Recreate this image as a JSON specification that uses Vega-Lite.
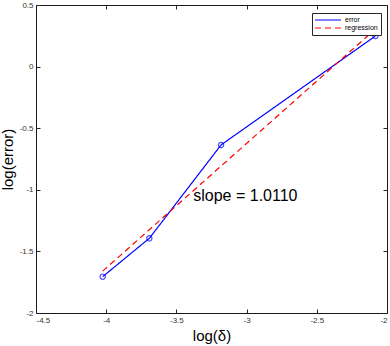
{
  "$schema": "https://vega.github.io/schema/vega-lite/v6.json",
  "width": 351,
  "height": 308,
  "autosize": {"type": "none"},
  "padding": {"left": 36, "top": 5, "right": 3, "bottom": 33},
  "background": "white",
  "config": {
    "view": {"stroke": null},
    "font": "Liberation Sans",
    "axis": {
      "labelFont": "Liberation Sans",
      "labelFontSize": 8,
      "labelColor": "#333333",
      "titleFont": "Liberation Sans",
      "titleFontSize": 15,
      "titleFontWeight": "normal",
      "titleColor": "#000000",
      "domainColor": "#1a1a1a",
      "tickColor": "#262626",
      "tickSize": -4,
      "grid": false
    }
  },
  "datasets": {
    "lines": [
      {"series": "error", "logdelta": -4.025, "logerror": -1.705},
      {"series": "error", "logdelta": -3.693, "logerror": -1.394},
      {"series": "error", "logdelta": -3.182, "logerror": -0.636},
      {"series": "error", "logdelta": -2.083, "logerror": 0.248},
      {"series": "regression", "logdelta": -4.025, "logerror": -1.66},
      {"series": "regression", "logdelta": -2.083, "logerror": 0.304}
    ],
    "label": [
      {"logdelta": -3.38, "logerror": -1.092, "text": "slope = 1.0110"}
    ]
  },
  "layer": [
    {
      "data": {"name": "lines"},
      "mark": {"type": "line", "strokeWidth": 1.2},
      "encoding": {
        "x": {
          "field": "logdelta", "type": "quantitative",
          "scale": {"domain": [-4.5, -2], "nice": false, "zero": false},
          "axis": {"orient": "bottom", "values": [-4.5, -4, -3.5, -3, -2.5, -2], "labelExpr": "'' + datum.value", "title": "log(δ)", "labelPadding": 7, "titlePadding": 4}
        },
        "y": {
          "field": "logerror", "type": "quantitative",
          "scale": {"domain": [-2, 0.5], "nice": false, "zero": false},
          "axis": {"orient": "left", "values": [-2, -1.5, -1, -0.5, 0, 0.5], "labelExpr": "'' + datum.value", "title": "log(error)", "labelPadding": 7, "titlePadding": 4}
        },
        "color": {
          "field": "series", "type": "nominal",
          "scale": {"domain": ["error", "regression"], "range": ["#0000ff", "#ff0000"]},
          "legend": {
            "title": null, "orient": "none", "legendX": 276, "legendY": 8,
            "fillColor": "white", "strokeColor": "#262626", "padding": 3,
            "symbolType": "stroke", "symbolSize": 676, "symbolStrokeWidth": 1.2,
            "labelFontSize": 7, "labelFont": "Liberation Sans", "labelColor": "#000000",
            "rowPadding": 0, "clipHeight": 8, "labelOffset": 3, "symbolOffset": -1
          }
        },
        "strokeDash": {
          "field": "series", "type": "nominal",
          "scale": {"domain": ["error", "regression"], "range": [[1, 0], [6, 4]]},
          "legend": null
        }
      }
    },
    {
      "data": {"name": "lines"},
      "transform": [{"filter": "datum.series === 'error'"}],
      "mark": {"type": "point", "shape": "circle", "filled": false, "color": "#0000ff", "size": 28, "strokeWidth": 1.2},
      "encoding": {
        "x": {"field": "logdelta", "type": "quantitative", "axis": null},
        "y": {"field": "logerror", "type": "quantitative", "axis": null}
      }
    },
    {
      "data": {"name": "label"},
      "mark": {"type": "text", "align": "left", "baseline": "alphabetic", "fontSize": 16, "font": "Liberation Sans", "color": "#000000"},
      "encoding": {
        "x": {"field": "logdelta", "type": "quantitative", "axis": null},
        "y": {"field": "logerror", "type": "quantitative", "axis": null},
        "text": {"field": "text"}
      }
    },
    {
      "data": {"name": "label"},
      "mark": {"type": "point", "opacity": 0},
      "encoding": {
        "x": {"field": "logdelta", "type": "quantitative", "axis": {"orient": "top", "values": [-4.5, -4, -3.5, -3, -2.5, -2], "labels": false, "title": null}},
        "y": {"field": "logerror", "type": "quantitative", "axis": {"orient": "right", "values": [-2, -1.5, -1, -0.5, 0, 0.5], "labels": false, "title": null}}
      }
    }
  ],
  "resolve": {"axis": {"x": "independent", "y": "independent"}}
}
